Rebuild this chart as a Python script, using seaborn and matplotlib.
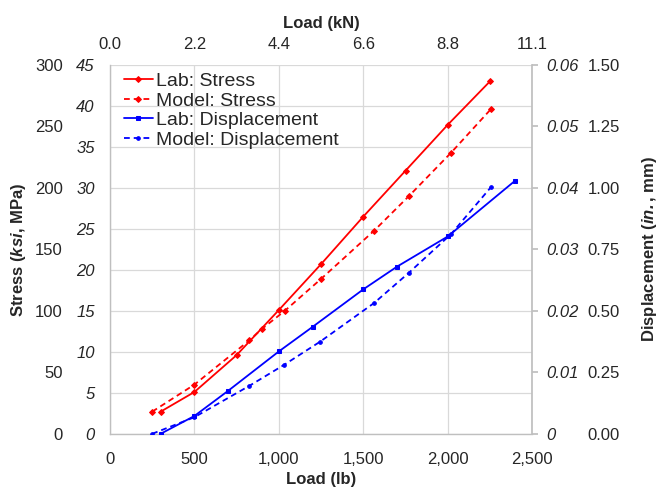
"""Stress and displacement versus load: lab measurements against the model."""

import matplotlib

matplotlib.use("Agg")
import matplotlib.pyplot as plt
import numpy as np
import seaborn as sns

# --- data ----------------------------------------------------------------
LAB_STRESS_LOAD = [300, 500, 750, 1000, 1250, 1500, 1750, 2000, 2250]
LAB_STRESS_KSI = [2.7, 5.1, 9.6, 15.1, 20.7, 26.5, 32.1, 37.7, 43.0]

MODEL_STRESS_LOAD = [250, 500, 825, 900, 1035, 1250, 1565, 1770, 2020, 2255]
MODEL_STRESS_KSI = [2.7, 6.0, 11.4, 12.8, 15.0, 18.9, 24.8, 29.0, 34.3, 39.6]

LAB_DISP_LOAD = [300, 500, 700, 1000, 1200, 1500, 1700, 2000, 2400]
LAB_DISP_IN = [0.0, 0.0029, 0.0070, 0.0134, 0.0174, 0.0235, 0.0272, 0.0321, 0.0412]

MODEL_DISP_LOAD = [250, 500, 825, 1030, 1245, 1565, 1770, 2020, 2255]
MODEL_DISP_IN = [0.0, 0.0027, 0.0078, 0.0112, 0.0150, 0.0213, 0.0262, 0.0325, 0.0401]

LB_TICKS = [0, 500, 1000, 1500, 2000, 2500]
KN_LABELS = ["0.0", "2.2", "4.4", "6.6", "8.8", "11.1"]
KSI_TICKS = [0, 5, 10, 15, 20, 25, 30, 35, 40, 45]
MPA_TICKS = [0, 50, 100, 150, 200, 250, 300]
IN_TICKS = [0, 0.01, 0.02, 0.03, 0.04, 0.05, 0.06]
IN_LABELS = ["0", "0.01", "0.02", "0.03", "0.04", "0.05", "0.06"]
MM_TICKS = [0, 0.25, 0.5, 0.75, 1.0, 1.25, 1.5]

RED = "#FF0000"
BLUE = "#0000FF"
GRID = "#D9D9D9"
SPINE = "#BFBFBF"
TICK_TEXT = "#262626"

sns.set_theme(style="white")
plt.rcParams["font.family"] = ["Liberation Sans", "DejaVu Sans"]
plt.rcParams["mathtext.fontset"] = "custom"
plt.rcParams["mathtext.rm"] = "Liberation Sans"
plt.rcParams["mathtext.it"] = "Liberation Sans:italic"
plt.rcParams["mathtext.bf"] = "Liberation Sans:bold"
plt.rcParams["mathtext.bfit"] = "Liberation Sans:bold:italic"

FS = 12

fig = plt.figure(figsize=(6.62, 4.88), dpi=100)
ax = fig.add_axes([0.166, 0.111, 0.638, 0.756])

# --- lines ---------------------------------------------------------------
dash = (0, (3.2, 2.2))
sns.lineplot(x=LAB_STRESS_LOAD, y=LAB_STRESS_KSI, ax=ax, color=RED, lw=1.3,
             marker="D", markersize=3.0, markeredgecolor=RED, label="Lab: Stress")
sns.lineplot(x=MODEL_STRESS_LOAD, y=MODEL_STRESS_KSI, ax=ax, color=RED, lw=1.3,
             linestyle=dash, marker="D", markersize=3.0, markeredgecolor=RED,
             label="Model: Stress")

ax_in = ax.twinx()
sns.lineplot(x=LAB_DISP_LOAD, y=LAB_DISP_IN, ax=ax_in, color=BLUE, lw=1.3,
             marker="s", markersize=3.0, markeredgecolor=BLUE, label="Lab: Displacement")
sns.lineplot(x=MODEL_DISP_LOAD, y=MODEL_DISP_IN, ax=ax_in, color=BLUE, lw=1.3,
             linestyle=dash, marker="o", markersize=2.6, markeredgecolor=BLUE,
             label="Model: Displacement")

handles, labels = ax.get_legend_handles_labels()
h2, l2 = ax_in.get_legend_handles_labels()
for a in (ax, ax_in):
    if a.get_legend() is not None:
        a.get_legend().remove()

# --- main axis: load (lb) vs stress (ksi) --------------------------------
ax.set_xlim(0, 2500)
ax.set_ylim(0, 45)
ax.set_xticks(LB_TICKS, labels=[f"{v:,}" for v in LB_TICKS])
ax.set_yticks(KSI_TICKS)
ax.tick_params(axis="x", length=0, pad=13, labelsize=FS, labelcolor=TICK_TEXT)
ax.tick_params(axis="y", length=0, pad=11, labelsize=FS, labelcolor=TICK_TEXT)
for t in ax.get_yticklabels():
    t.set_fontstyle("italic")
ax.grid(True, color=GRID, linewidth=0.9)
ax.set_axisbelow(True)
for side in ("top", "right"):
    ax.spines[side].set_visible(False)
for side in ("left", "bottom"):
    ax.spines[side].set_color(SPINE)
    ax.spines[side].set_linewidth(1.0)
ax.set_xlabel("Load (lb)", fontsize=FS, fontweight="bold", labelpad=4)
ax.set_ylabel("")

# --- displacement axis (in) ----------------------------------------------
ax_in.set_ylim(0, 0.06)
ax_in.set_yticks(IN_TICKS, labels=IN_LABELS)
ax_in.tick_params(axis="y", direction="out", length=4, color=SPINE, pad=6,
                  labelsize=FS, labelcolor=TICK_TEXT)
for t in ax_in.get_yticklabels():
    t.set_fontstyle("italic")
for side in ("top", "left", "bottom"):
    ax_in.spines[side].set_visible(False)
ax_in.spines["right"].set_color(SPINE)
ax_in.set_ylabel("")

# --- MPa column on the left ----------------------------------------------
ax_mpa = ax.twinx()
ax_mpa.set_ylim(0, 300)
ax_mpa.yaxis.set_ticks_position("left")
ax_mpa.yaxis.set_label_position("left")
ax_mpa.set_yticks(MPA_TICKS)
ax_mpa.tick_params(axis="y", length=0, pad=34, labelsize=FS, labelcolor=TICK_TEXT)
for s in ax_mpa.spines.values():
    s.set_visible(False)
ax_mpa.set_ylabel(r"Stress ($\mathbfit{ksi}$, MPa)", fontsize=FS, fontweight="bold",
                  labelpad=5)

# --- mm column on the right ----------------------------------------------
ax_mm = ax.twinx()
ax_mm.set_ylim(0, 1.5)
ax_mm.set_yticks(MM_TICKS, labels=[f"{v:.2f}" for v in MM_TICKS])
ax_mm.tick_params(axis="y", length=0, pad=40, labelsize=FS, labelcolor=TICK_TEXT)
for s in ax_mm.spines.values():
    s.set_visible(False)
ax_mm.set_ylabel(r"Displacement ($\mathbfit{in.}$, mm)", fontsize=FS,
                 fontweight="bold", labelpad=14)

# --- top axis: load (kN) -------------------------------------------------
ax_top = ax.twiny()
ax_top.set_xlim(0, 2500)
ax_top.set_xticks(LB_TICKS, labels=KN_LABELS)
ax_top.tick_params(axis="x", length=0, pad=9, labelsize=FS, labelcolor=TICK_TEXT)
for s in ax_top.spines.values():
    s.set_visible(False)
ax_top.set_xlabel("Load (kN)", fontsize=FS, fontweight="bold", labelpad=7)

# --- legend --------------------------------------------------------------
leg = ax_top.legend(handles + h2, labels + l2, loc="upper left",
                    bbox_to_anchor=(0.019, 0.995), frameon=False, fontsize=14,
                    handlelength=1.5, handletextpad=0.15, labelspacing=0.1,
                    borderaxespad=0.1, borderpad=0.2)

fig.savefig("out.png", dpi=100)
